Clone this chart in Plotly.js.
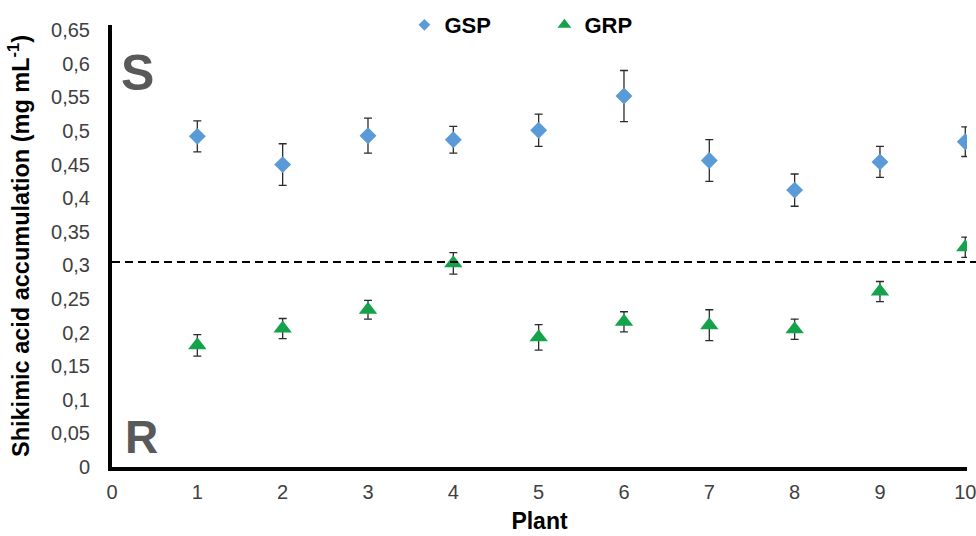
<!DOCTYPE html>
<html>
<head>
<meta charset="utf-8">
<script src="https://cdn.plot.ly/plotly-3.0.1.min.js"></script>
<style>html,body{margin:0;padding:0;background:#fff;}#chart{width:976px;height:536px;}</style>
</head>
<body>
<div id="chart"></div>
<script>
// Data
const plants = [1, 2, 3, 4, 5, 6, 7, 8, 9, 10];
const gspValues = [0.492, 0.450, 0.493, 0.487, 0.501, 0.552, 0.456, 0.412, 0.454, 0.484];
const gspErrors = [0.023, 0.031, 0.026, 0.020, 0.024, 0.038, 0.031, 0.024, 0.023, 0.022];
const grpValues = [0.181, 0.206, 0.234, 0.303, 0.193, 0.216, 0.211, 0.205, 0.261, 0.327];
const grpErrors = [0.016, 0.015, 0.014, 0.016, 0.019, 0.015, 0.023, 0.015, 0.015, 0.015];
const seriesNames = ['GSP', 'GRP'];
const threshold = 0.305;
const yTickVals = [0, 0.05, 0.1, 0.15, 0.2, 0.25, 0.3, 0.35, 0.4, 0.45, 0.5, 0.55, 0.6, 0.65];
const yTickText = ['0', '0,05', '0,1', '0,15', '0,2', '0,25', '0,3', '0,35', '0,4', '0,45', '0,5', '0,55', '0,6', '0,65'];
const xTickVals = [0, 1, 2, 3, 4, 5, 6, 7, 8, 9, 10];

const blue = '#5A9AD6';
const green = '#14A24A';
const errStyle = {type: 'data', visible: true, color: '#2b2b2b', thickness: 1.3, width: 4};

const traces = [
  {x: plants, y: gspValues, type: 'scatter', mode: 'markers', name: seriesNames[0], showlegend: false,
   marker: {symbol: 'diamond', size: 13, color: blue},
   error_y: Object.assign({array: gspErrors}, errStyle)},
  {x: plants, y: grpValues, type: 'scatter', mode: 'markers', name: seriesNames[1], showlegend: false,
   marker: {symbol: 'triangle-up', size: 16, color: green},
   error_y: Object.assign({array: grpErrors}, errStyle)},
  // legend entries
  {x: [null], y: [null], type: 'scatter', mode: 'markers', name: seriesNames[0],
   marker: {symbol: 'diamond', size: 9, color: blue}},
  {x: [null], y: [null], type: 'scatter', mode: 'markers', name: seriesNames[1],
   marker: {symbol: 'triangle-up', size: 12, color: green}}
];

const fam = 'Liberation Sans, Arial, sans-serif';
const tickFont = {family: fam, size: 20, color: '#404040'};

const layout = {
  width: 976, height: 536,
  margin: {l: 112, r: 9, t: 25, b: 69, autoexpand: false},
  paper_bgcolor: '#fff', plot_bgcolor: '#fff',
  showlegend: true,
  legend: {orientation: 'h', x: 0.342, xanchor: 'left', y: 1.0, yanchor: 'middle',
           font: {family: fam, size: 22, color: '#000', weight: 'bold'},
           itemwidth: 30, entrywidth: 95, bgcolor: 'rgba(0,0,0,0)'},
  xaxis: {range: [0, 10.02], tickvals: xTickVals, ticks: '', showgrid: false, zeroline: false,
          showline: true, linecolor: '#000', linewidth: 4, tickfont: tickFont, ticklabelstandoff: 4,
          ticklabeloverflow: 'allow',
          title: {text: 'Plant', font: {family: fam, size: 23, color: '#000', weight: 'bold'}, standoff: 12}},
  yaxis: {range: [0, 0.6577], tickvals: yTickVals, ticktext: yTickText, ticks: '', showgrid: false, zeroline: false,
          showline: true, linecolor: '#000', linewidth: 4, tickfont: tickFont, ticklabelstandoff: 14,
          ticklabeloverflow: 'allow',
          title: {text: 'Shikimic acid accumulation (mg mL<sup>-1</sup>)', font: {family: fam, size: 23.5, color: '#000', weight: 'bold'}, standoff: 16}},
  shapes: [{type: 'line', xref: 'paper', yref: 'y', x0: 0, x1: 1.012, y0: threshold, y1: threshold,
            line: {color: '#000', width: 2, dash: '8px,5px'}}],
  annotations: [
    {text: '<b>S</b>', x: 0.30, y: 0.586, xref: 'x', yref: 'y', showarrow: false, xanchor: 'center', yanchor: 'middle',
     font: {family: fam, size: 50, color: '#595959'}},
    {text: '<b>R</b>', x: 0.35, y: 0.045, xref: 'x', yref: 'y', showarrow: false, xanchor: 'center', yanchor: 'middle',
     font: {family: fam, size: 46, color: '#595959'}}
  ]
};

Plotly.newPlot('chart', traces, layout, {displayModeBar: false, staticPlot: true});
</script>
</body>
</html>
